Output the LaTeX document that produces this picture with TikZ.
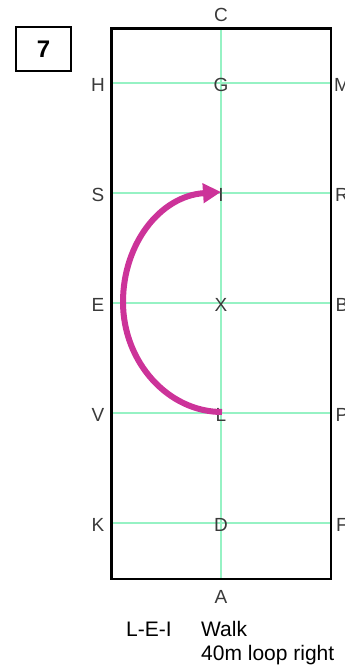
\documentclass[tikz,border=0pt]{standalone}
\usepackage{fontspec}
\setmainfont{Liberation Sans}
\usetikzlibrary{arrows.meta}
\definecolor{gridgreen}{HTML}{96F2C4}
\definecolor{loopmag}{HTML}{CC3399}
\definecolor{lettergray}{HTML}{3A3A3A}
\begin{document}
\begin{tikzpicture}[x=1pt,y=-1pt,
  arenabox/.style={draw=black,line width=2.5pt},
  gridline/.style={draw=gridgreen,line width=1.1pt},
  lbl/.style={inner sep=0pt,text=lettergray,font=\fontsize{19}{19}\selectfont,text height=13.5pt,text depth=0pt,anchor=center},
  numbox/.style={draw=black,line width=2.2pt,minimum width=55pt,minimum height=44pt,inner sep=0pt,font=\fontsize{24}{24}\selectfont\bfseries},
  caption/.style={inner sep=0pt,anchor=base west,font=\fontsize{21}{21}\selectfont},
  loopline/.style={draw=loopmag,line width=6pt,-{Triangle[length=18pt,width=19pt]}}
]
\useasboundingbox (0,0) rectangle (345,667);
% grid lines
\coordinate (cTop) at (221,28.5);
\coordinate (cBot) at (221,579);
\foreach \n/\yy in {rG/83,rI/193,rX/303,rL/413,rD/523}{
  \coordinate (\n W) at (111.5,\yy);
  \coordinate (\n E) at (331,\yy);
  \draw[gridline] (\n W) -- (\n E);
}
\draw[gridline] (cTop) -- (cBot);
% arena
\draw[arenabox] (111.5,28.5) rectangle (331,579);
% letters
\node[lbl] (C) at (221,15) {C};
\node[lbl] (A) at (221,597) {A};
\node[lbl] (H) at (98,84.5) {H};
\node[lbl] (S) at (98,194.5) {S};
\node[lbl] (E) at (98,304.5) {E};
\node[lbl] (V) at (98,415) {V};
\node[lbl] (K) at (98,525) {K};
\node[lbl] (M) at (342,84.5) {M};
\node[lbl] (R) at (342,194.5) {R};
\node[lbl] (B) at (342,304.5) {B};
\node[lbl] (P) at (342,415) {P};
\node[lbl] (F) at (342,525) {F};
\node[lbl] (G) at (221,84.5) {G};
\node[lbl] (I) at (221,194.5) {I};
\node[lbl] (X) at (221,304.5) {X};
\node[lbl] (L) at (221,415) {L};
\node[lbl] (D) at (221,525) {D};
% loop
\coordinate (pL) at (222,412);
\coordinate (pI) at (221,192);
\draw[loopline] (pL) .. controls (168,412) and (123,362) .. (123,302)
  .. controls (123,244) and (160,196) .. (pI);
% number box
\node[numbox] (num) at (43.5,49) {7};
% captions
\node[caption] (mv) at (126,636) {L-E-I};
\node[caption] (gait) at (201,636) {Walk};
\node[caption] (desc) at (201,660) {40m loop right};
\end{tikzpicture}
\end{document}
